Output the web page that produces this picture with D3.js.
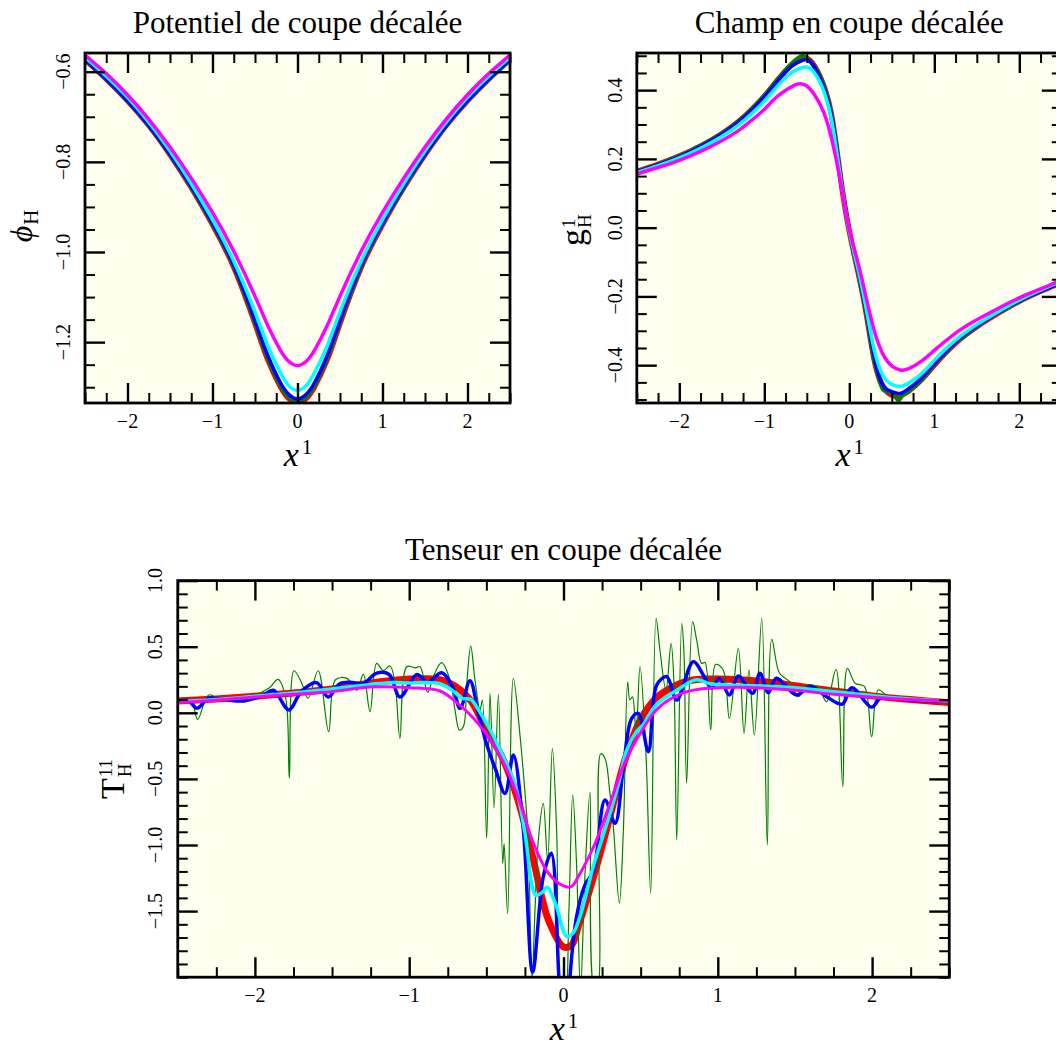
<!DOCTYPE html>
<html><head><meta charset="utf-8">
<script src="https://cdn.jsdelivr.net/npm/d3@7"></script>
<style>
body{margin:0;background:#fff}
svg{display:block}
text{font-family:"Liberation Serif","Times New Roman",serif;fill:#000}
</style>
</head><body>
<svg id="c" width="1056" height="1047"></svg>
<script>
// ---------- DATA ----------
const xTicks = [-2, -1, 0, 1, 2];
const xTickLabels = ["\u22122", "\u22121", "0", "1", "2"];

// Potential panel
const phiX = [-2.5,-2.25,-2,-1.75,-1.5,-1.25,-1,-0.75,-0.5,-0.35,-0.2,-0.1,0,0.1,0.2,0.35,0.5,0.75,1,1.25,1.5,1.75,2,2.25,2.5];
const phiRed     = [-0.574,-0.617,-0.665,-0.720,-0.785,-0.858,-0.940,-1.035,-1.160,-1.240,-1.300,-1.326,-1.336,-1.326,-1.300,-1.240,-1.160,-1.035,-0.940,-0.858,-0.785,-0.720,-0.665,-0.617,-0.574];
const phiGreen   = [-0.574,-0.617,-0.665,-0.720,-0.784,-0.857,-0.938,-1.032,-1.156,-1.235,-1.296,-1.322,-1.332,-1.322,-1.296,-1.235,-1.156,-1.032,-0.938,-0.857,-0.784,-0.720,-0.665,-0.617,-0.574];
const phiBlue    = [-0.573,-0.616,-0.664,-0.719,-0.783,-0.855,-0.936,-1.029,-1.151,-1.229,-1.290,-1.316,-1.326,-1.316,-1.290,-1.229,-1.151,-1.029,-0.936,-0.855,-0.783,-0.719,-0.664,-0.616,-0.573];
const phiCyan    = [-0.568,-0.610,-0.657,-0.712,-0.776,-0.848,-0.928,-1.020,-1.133,-1.208,-1.268,-1.297,-1.307,-1.297,-1.268,-1.208,-1.133,-1.020,-0.928,-0.848,-0.776,-0.712,-0.657,-0.610,-0.568];
const phiMagenta = [-0.563,-0.604,-0.651,-0.705,-0.767,-0.836,-0.912,-0.998,-1.098,-1.163,-1.218,-1.243,-1.252,-1.243,-1.218,-1.163,-1.098,-0.998,-0.912,-0.836,-0.767,-0.705,-0.651,-0.604,-0.563];
const phiYTicks = [-1.2, -1.0, -0.8, -0.6];
const phiYLabels = ["\u22121.2", "\u22121.0", "\u22120.8", "\u22120.6"];

// Field panel
const gX = [-2.5,-2.25,-2,-1.75,-1.5,-1.3,-1.15,-1,-0.85,-0.7,-0.6,-0.5,-0.4,-0.3,-0.2,-0.1,0,0.1,0.2,0.3,0.4,0.5,0.6,0.7,0.85,1,1.15,1.3,1.5,1.75,2,2.25,2.5];
const gRed     = [0.163,0.184,0.208,0.237,0.273,0.309,0.343,0.382,0.427,0.469,0.485,0.492,0.466,0.412,0.315,0.140,-0.010,-0.125,-0.250,-0.392,-0.463,-0.487,-0.487,-0.475,-0.442,-0.400,-0.360,-0.325,-0.288,-0.249,-0.214,-0.185,-0.159];
const gBlue    = [0.162,0.183,0.207,0.236,0.272,0.308,0.341,0.380,0.424,0.465,0.481,0.489,0.463,0.408,0.312,0.140,-0.008,-0.122,-0.246,-0.385,-0.460,-0.477,-0.482,-0.468,-0.437,-0.396,-0.356,-0.322,-0.286,-0.247,-0.213,-0.185,-0.158];
const gCyan    = [0.160,0.180,0.203,0.231,0.265,0.299,0.331,0.368,0.410,0.447,0.461,0.467,0.447,0.397,0.302,0.138,-0.010,-0.118,-0.238,-0.362,-0.432,-0.456,-0.462,-0.452,-0.425,-0.386,-0.349,-0.317,-0.282,-0.245,-0.211,-0.182,-0.156];
const gMagenta = [0.156,0.175,0.196,0.222,0.253,0.283,0.312,0.344,0.381,0.407,0.418,0.412,0.383,0.335,0.250,0.128,-0.005,-0.100,-0.205,-0.305,-0.370,-0.402,-0.414,-0.410,-0.388,-0.357,-0.326,-0.298,-0.268,-0.235,-0.204,-0.178,-0.152];
const gGreenX = [-2.5,-2.25,-2,-1.85,-1.8,-1.75,-1.5,-1.3,-1.15,-1.1,-1.05,-1,-0.85,-0.7,-0.62,-0.55,-0.5,-0.4,-0.32,-0.28,-0.2,-0.1,0,0.1,0.2,0.3,0.4,0.45,0.5,0.55,0.58,0.62,0.7,0.75,0.85,1,1.15,1.25,1.3,1.5,1.75,1.8,2,2.25,2.5];
const gGreen  = [0.163,0.184,0.209,0.226,0.233,0.239,0.274,0.310,0.344,0.358,0.370,0.384,0.429,0.472,0.490,0.500,0.493,0.467,0.428,0.400,0.316,0.142,-0.010,-0.125,-0.250,-0.395,-0.472,-0.478,-0.482,-0.495,-0.503,-0.490,-0.476,-0.465,-0.444,-0.398,-0.358,-0.333,-0.325,-0.288,-0.245,-0.242,-0.214,-0.185,-0.159];
const gYTicks = [-0.4, -0.2, 0.0, 0.2, 0.4];
const gYLabels = ["\u22120.4", "\u22120.2", "0.0", "0.2", "0.4"];

// Tensor panel
const tX = [-2.5,-2.25,-2,-1.75,-1.5,-1.25,-1,-0.8,-0.7,-0.6,-0.5,-0.4,-0.3,-0.2,-0.1,0,0.05,0.1,0.2,0.3,0.4,0.5,0.6,0.7,0.8,0.9,1,1.25,1.5,1.75,2,2.25,2.5];
const tRed     = [0.09,0.105,0.125,0.15,0.18,0.225,0.255,0.25,0.2,0.09,-0.13,-0.33,-0.64,-1.09,-1.56,-1.77,-1.76,-1.6,-1.22,-0.79,-0.35,-0.05,0.11,0.19,0.24,0.255,0.255,0.24,0.205,0.165,0.128,0.1,0.077];
const tMagenta = [0.077,0.095,0.12,0.14,0.16,0.195,0.19,0.165,0.085,-0.02,-0.16,-0.35,-0.62,-0.97,-1.21,-1.31,-1.315,-1.23,-1.0,-0.69,-0.37,-0.15,0.02,0.11,0.16,0.182,0.19,0.19,0.17,0.14,0.118,0.1,0.09];
const tCyanX = [-2.5,-2.25,-2.0,-1.75,-1.5,-1.25,-1.1,-1.0,-0.9,-0.8,-0.72,-0.66,-0.6,-0.55,-0.42,-0.31,-0.25,-0.18,-0.14,-0.105,-0.05,0.02,0.06,0.107,0.193,0.302,0.36,0.41,0.475,0.517,0.6,0.734,0.86,0.95,1.06,1.25,1.5,1.75,2.0,2.25,2.5];
const tCyan  = [0.085,0.1,0.125,0.15,0.18,0.215,0.23,0.225,0.23,0.22,0.17,0.11,0.1,0.02,-0.256,-0.56,-0.91,-1.38,-1.36,-1.32,-1.45,-1.69,-1.67,-1.54,-1.164,-0.76,-0.52,-0.28,-0.14,-0.09,0.06,0.17,0.25,0.22,0.21,0.205,0.19,0.16,0.13,0.105,0.09];
const tBlueX = [-2.5,-2.43,-2.375,-2.3,-2.2,-2.07,-1.95,-1.88,-1.78,-1.7,-1.6,-1.525,-1.45,-1.37,-1.3,-1.21,-1.13,-1.06,-0.95,-0.88,-0.79,-0.72,-0.67,-0.606,-0.552,-0.5,-0.44,-0.379,-0.325,-0.26,-0.2,-0.131,-0.08,-0.03,0.0,0.03,0.042,0.085,0.14,0.193,0.269,0.334,0.388,0.442,0.485,0.55,0.604,0.669,0.734,0.841,0.906,0.96,1.01,1.075,1.133,1.226,1.273,1.327,1.38,1.51,1.6,1.705,1.807,1.868,1.997,2.06,2.25,2.5];
const tBlue  = [0.09,0.09,0.035,0.11,0.1,0.09,0.13,0.17,0.022,0.16,0.228,0.12,0.22,0.23,0.22,0.3,0.29,0.12,0.29,0.23,0.303,0.2,0.034,0.243,0.0,-0.23,-0.43,-0.61,-0.32,-0.89,-1.96,-1.24,-1.063,-2.0,-2.6,-2.3,-2.0,-1.54,-1.3,-1.2,-0.66,-0.836,-0.41,-0.042,-0.004,-0.294,0.21,0.273,0.097,0.387,0.286,0.185,0.261,0.135,0.278,0.147,0.3,0.152,0.261,0.135,0.198,0.122,0.066,0.19,0.042,0.115,0.095,0.088];
const tGreenX = [-2.5,-2.45,-2.41,-2.371,-2.3,-2.22,-2.07,-1.91,-1.85,-1.8,-1.777,-1.747,-1.7,-1.656,-1.59,-1.522,-1.478,-1.403,-1.34,-1.297,-1.254,-1.211,-1.168,-1.124,-1.092,-1.06,-1.016,-0.96,-0.93,-0.88,-0.844,-0.79,-0.736,-0.703,-0.675,-0.649,-0.627,-0.601,-0.574,-0.541,-0.526,-0.498,-0.476,-0.45,-0.422,-0.394,-0.385,-0.362,-0.325,-0.282,-0.25,-0.228,-0.205,-0.185,-0.163,-0.131,-0.103,-0.072,-0.044,-0.02,0.01,0.035,0.06,0.085,0.11,0.14,0.172,0.2,0.218,0.241,0.269,0.3,0.323,0.362,0.388,0.416,0.43,0.447,0.47,0.496,0.535,0.565,0.6,0.625,0.664,0.697,0.716,0.734,0.766,0.78,0.798,0.837,0.863,0.895,0.917,0.954,0.986,1.035,1.075,1.133,1.17,1.202,1.237,1.285,1.321,1.35,1.4,1.466,1.522,1.576,1.65,1.705,1.766,1.81,1.84,1.89,1.95,1.997,2.04,2.1,2.25,2.45,2.5];
const tGreen  = [0.1,0.1,0.09,-0.05,0.135,0.1,0.11,0.185,0.253,0.11,-0.496,0.318,0.235,0.11,0.318,-0.143,0.25,0.26,0.17,0.293,0.008,0.374,0.32,0.354,0.223,-0.193,0.349,0.34,0.349,0.155,0.273,0.379,0.25,0.021,-0.13,-0.105,0.22,0.505,0.25,0.021,0.097,-0.95,0.147,-0.72,0.14,-1.14,-0.99,-1.52,0.26,-0.17,-0.6,-0.96,-2.05,-1.5,-0.96,-0.685,-1.11,-0.27,-0.91,-2.1,-2.2,-1.5,-0.62,-1.16,-2.1,-1.2,-0.6,-2.1,-2.1,-0.31,-0.345,-0.6,-0.86,-1.44,-0.89,0.235,0.097,0.12,-0.155,0.349,-0.33,-1.365,0.715,0.475,0.172,0.526,0.22,-0.962,0.677,0.475,-0.533,0.689,0.551,0.374,0.38,-0.13,0.366,0.324,-0.042,0.488,-0.155,0.324,-0.168,0.715,-1.0,0.556,0.299,0.235,0.122,0.21,0.19,0.084,0.329,-0.559,0.336,0.223,0.2,-0.18,0.172,0.13,0.1,0.09,0.088];
const tYTicks = [-1.5, -1.0, -0.5, 0.0, 0.5, 1.0];
const tYLabels = ["\u22121.5", "\u22121.0", "\u22120.5", "0.0", "0.5", "1.0"];

// ---------- DRAWING ----------
const svg = d3.select("#c");
const COL = {red:"#ff0000", green:"#008000", blue:"#0000ff", cyan:"#00ffff", magenta:"#ff00ff"};
const TICKFONT = "20px", TITLEFONT = "31px";

function zip(xs, ys){ return xs.map((v,i)=>[v, ys[i]]); }

function label(tx, ty, rot, main, italic, sup, sub, opts){
  opts = opts || {};
  const size = opts.size || 34, small = opts.small || 21;
  const gg = svg.append("g").attr("transform", `translate(${tx},${ty}) rotate(${rot})`);
  const inner = gg.append("g");
  const t = inner.append("text").attr("x",0).attr("y",0).style("font-size", size+"px")
    .style("font-style", italic ? "italic" : "normal").text(main);
  const w = t.node().getComputedTextLength() + (opts.gap || 1);
  if (sup) inner.append("text").attr("x", w).attr("y", -(opts.raise || 12)).style("font-size", small+"px").text(sup);
  if (sub) inner.append("text").attr("x", w).attr("y", (opts.drop || 7)).style("font-size", small+"px").text(sub);
  const bb = inner.node().getBBox();
  inner.attr("transform", `translate(${-(bb.x + bb.width/2)},0)`);
}

function panel(o){
  const x = d3.scaleLinear().domain([-2.5, 2.5]).range([o.l, o.r]);
  const y = d3.scaleLinear().domain(o.yd).range([o.b, o.t]);
  const clipId = "clip" + o.id;
  svg.append("clipPath").attr("id", clipId).append("rect")
    .attr("x", o.l).attr("y", o.t).attr("width", o.r - o.l).attr("height", o.b - o.t);
  svg.append("rect").attr("x", o.l).attr("y", o.t).attr("width", o.r - o.l).attr("height", o.b - o.t)
    .attr("fill", "#fffff0");
  const lines = svg.append("g").attr("clip-path", `url(#${clipId})`);
  o.series.forEach(s => {
    const curve = s.curve || d3.curveNatural;
    lines.append("path").datum(zip(s.xs, s.ys))
      .attr("fill", "none").attr("stroke", s.color).attr("stroke-width", s.w)
      .attr("stroke-linejoin", "round").attr("stroke-linecap", "round")
      .attr("d", d3.line().x(d => x(d[0])).y(d => y(d[1])).curve(curve));
  });

  const eps = 1e-9;
  const xMinor = d3.range(-2.5, 2.5 + eps, 0.25).filter(v => !xTicks.some(t => Math.abs(t - v) < 1e-6));
  const yMinor = d3.range(Math.ceil(o.yd[0]/o.ys - 1e-6)*o.ys, o.yd[1] + eps, o.ys)
    .filter(v => !o.yt.some(t => Math.abs(t - v) < 1e-6));

  const ax = svg.append("g");
  function add(axisFn, scale, vals, size, tr, sw){
    ax.append("g").attr("transform", tr)
      .call(axisFn(scale).tickValues(vals).tickSize(-size).tickFormat(""))
      .call(g => g.select(".domain").remove())
      .call(g => g.selectAll("line").attr("stroke", "#000").attr("stroke-width", sw));
  }
  add(d3.axisBottom, x, xTicks, 20, `translate(0,${o.b})`, 2.4);
  add(d3.axisTop, x, xTicks, 20, `translate(0,${o.t})`, 2.4);
  add(d3.axisBottom, x, xMinor, 10, `translate(0,${o.b})`, 2);
  add(d3.axisTop, x, xMinor, 10, `translate(0,${o.t})`, 2);
  add(d3.axisLeft, y, o.yt, 20, `translate(${o.l},0)`, 2.4);
  add(d3.axisRight, y, o.yt, 20, `translate(${o.r},0)`, 2.4);
  add(d3.axisLeft, y, yMinor, 10, `translate(${o.l},0)`, 2);
  add(d3.axisRight, y, yMinor, 10, `translate(${o.r},0)`, 2);

  svg.append("rect").attr("x", o.l).attr("y", o.t).attr("width", o.r - o.l).attr("height", o.b - o.t)
    .attr("fill", "none").attr("stroke", "#000").attr("stroke-width", 2.8);

  xTicks.forEach((v, i) => {
    svg.append("text").attr("x", x(v)).attr("y", o.b + 25).attr("text-anchor", "middle")
      .style("font-size", TICKFONT).text(xTickLabels[i]);
  });
  o.yt.forEach((v, i) => {
    svg.append("text").attr("transform", `translate(${o.yLabX},${y(v)}) rotate(-90)`)
      .attr("text-anchor", "middle").style("font-size", TICKFONT).text(o.yl[i]);
  });
  svg.append("text").attr("x", (o.l + o.r)/2).attr("y", o.titleY).attr("text-anchor", "middle")
    .style("font-size", TITLEFONT).text(o.title);
  return {x, y};
}

const cr = d3.curveCatmullRom.alpha(0.5);

panel({
  id: "a", l: 85, r: 510, t: 53, b: 403, yd: [-1.335, -0.5585], ys: 0.05,
  yt: phiYTicks, yl: phiYLabels, yLabX: 70, title: "Potentiel de coupe décalée", titleY: 33,
  series: [
    {xs: phiX, ys: phiRed, color: COL.red, w: 5},
    {xs: phiX, ys: phiGreen, color: COL.green, w: 4},
    {xs: phiX, ys: phiBlue, color: COL.blue, w: 3.5},
    {xs: phiX, ys: phiCyan, color: COL.cyan, w: 3.5},
    {xs: phiX, ys: phiMagenta, color: COL.magenta, w: 3.5}
  ]
});

panel({
  id: "b", l: 636.8, r: 1061.8, t: 53, b: 403, yd: [-0.51, 0.508], ys: 0.05,
  yt: gYTicks, yl: gYLabels, yLabX: 622, title: "Champ en coupe décalée", titleY: 33,
  series: [
    {xs: gX, ys: gRed, color: COL.red, w: 5.5},
    {xs: gGreenX, ys: gGreen, color: COL.green, w: 4, curve: cr},
    {xs: gX, ys: gBlue, color: COL.blue, w: 3.5},
    {xs: gX, ys: gCyan, color: COL.cyan, w: 3.5},
    {xs: gX, ys: gMagenta, color: COL.magenta, w: 3.5}
  ]
});

panel({
  id: "c", l: 177.75, r: 949.25, t: 580.6, b: 977.2, yd: [-2.0, 1.0], ys: 0.1,
  yt: tYTicks, yl: tYLabels, yLabX: 162, title: "Tenseur en coupe décalée", titleY: 560,
  series: [
    {xs: tX, ys: tRed, color: COL.red, w: 7, curve: cr},
    {xs: tGreenX, ys: tGreen, color: COL.green, w: 1.2, curve: cr},
    {xs: tBlueX, ys: tBlue, color: COL.blue, w: 3.5, curve: cr},
    {xs: tCyanX, ys: tCyan, color: COL.cyan, w: 3.5, curve: cr},
    {xs: tX, ys: tMagenta, color: COL.magenta, w: 3, curve: cr}
  ]
});

// axis labels
label(297.5, 466, 0, "x", true, "1", null, {gap: 3});
label(849.3, 466, 0, "x", true, "1", null, {gap: 3});
label(563.5, 1040, 0, "x", true, "1", null, {gap: 3});
label(32, 226, -90, "\u03d5", true, null, "H", {size: 32, drop: 6});
label(584, 230, -90, "g", false, "1", "H", {raise: 9, drop: 7, small: 19});
label(124, 779, -90, "T", false, "11", "H", {raise: 12, drop: 7, small: 19});
</script>
</body></html>
